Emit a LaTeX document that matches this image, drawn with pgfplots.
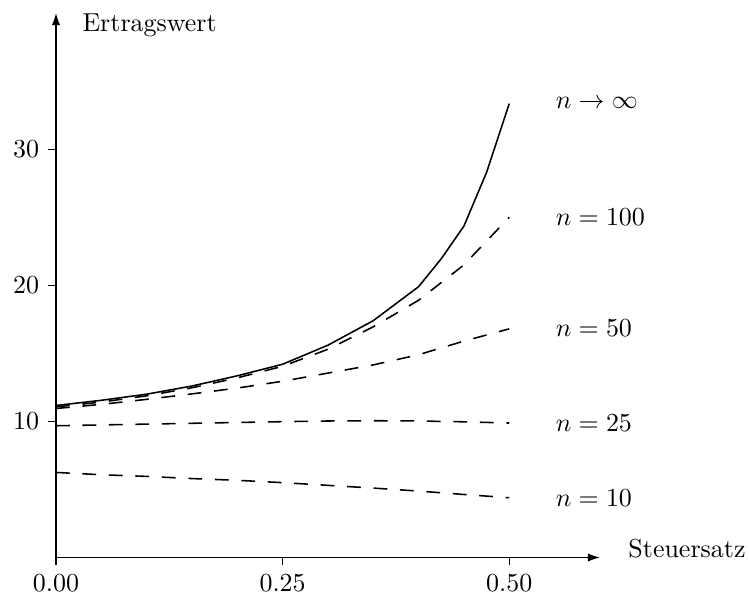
\documentclass[border=0pt]{standalone}
\usepackage{pgfplots}
\pgfplotsset{compat=1.18}
\usepackage{pgfplotstable}
\usetikzlibrary{arrows.meta}

\pgfplotstableread{
s      inf    n100   n50    n25    n10
0.000  11.17  11.07  10.95  9.68   6.25
0.050  11.55  11.42  11.25  9.74   6.08
0.100  12.00  11.88  11.62  9.80   5.96
0.150  12.60  12.47  12.02  9.86   5.80
0.200  13.35  13.20  12.45  9.92   5.67
0.250  14.20  14.05  12.95  9.98   5.50
0.300  15.60  15.30  13.55  10.03  5.30
0.350  17.40  16.95  14.15  10.05  5.10
0.400  19.90  18.90  14.90  10.03  4.88
0.450  24.35  21.50  15.90  9.97   4.63
0.500  33.35  25.00  16.80  9.88   4.39
}\datamain

\pgfplotstableread{
s      inf
0.000  11.17
0.050  11.55
0.100  12.00
0.150  12.60
0.200  13.35
0.250  14.20
0.300  15.60
0.350  17.40
0.400  19.90
0.425  21.95
0.450  24.35
0.475  28.30
0.500  33.35
}\datainf

\begin{document}
\begin{tikzpicture}
\path[use as bounding box] (-21.56pt,-14.82pt) rectangle (267.19pt,214.64pt);
\begin{axis}[
  at={(0,0)}, anchor=origin,
  scale only axis,
  width=209.4pt, height=209.6pt,
  xmin=0, xmax=0.6, ymin=0, ymax=40,
  axis lines=left,
  axis line style={black, line width=0.5pt, -{Latex[length=4.6pt,width=3.2pt]}},
  xtick={0,0.25,0.5},
  ytick={10,20,30},
  tick align=outside,
  major tick length=3pt,
  tick style={black, line width=0.5pt},
  xticklabel style={/pgf/number format/.cd, fixed, fixed zerofill, precision=2},
  yticklabel style={/pgf/number format/fixed},
  clip=false,
]
\draw[black, line width=0.5pt] (axis cs:0,0) -- (axis cs:0,-0.45);
\addplot[black, line width=0.6pt] table[x=s, y=inf] {\datainf};
\addplot[black, line width=0.6pt, dash pattern=on 5.3pt off 4.9pt] table[x=s, y=n100] {\datamain};
\addplot[black, line width=0.6pt, dash pattern=on 5.3pt off 4.9pt] table[x=s, y=n50] {\datamain};
\addplot[black, line width=0.6pt, dash pattern=on 5.3pt off 4.9pt] table[x=s, y=n25] {\datamain};
\addplot[black, line width=0.6pt, dash pattern=on 5.3pt off 4.9pt] table[x=s, y=n10] {\datamain};

\node[anchor=west, inner sep=0pt] at (axis cs:0.5508,33.37) {$n \to \infty$};
\node[anchor=west, inner sep=0pt] at (axis cs:0.5508,25.02) {$n = 100$};
\node[anchor=west, inner sep=0pt] at (axis cs:0.5508,16.85) {$n = 50$};
\node[anchor=west, inner sep=0pt] at (axis cs:0.5508,9.88) {$n = 25$};
\node[anchor=west, inner sep=0pt] at (axis cs:0.5508,4.37) {$n = 10$};

\node[anchor=base west, inner sep=0pt, xshift=10.8pt] at (axis cs:0.6,0) {Steuersatz};
\node[anchor=base west, inner sep=0pt] at (axis cs:0.0287,38.63) {Ertragswert};
\end{axis}
\end{tikzpicture}
\end{document}
